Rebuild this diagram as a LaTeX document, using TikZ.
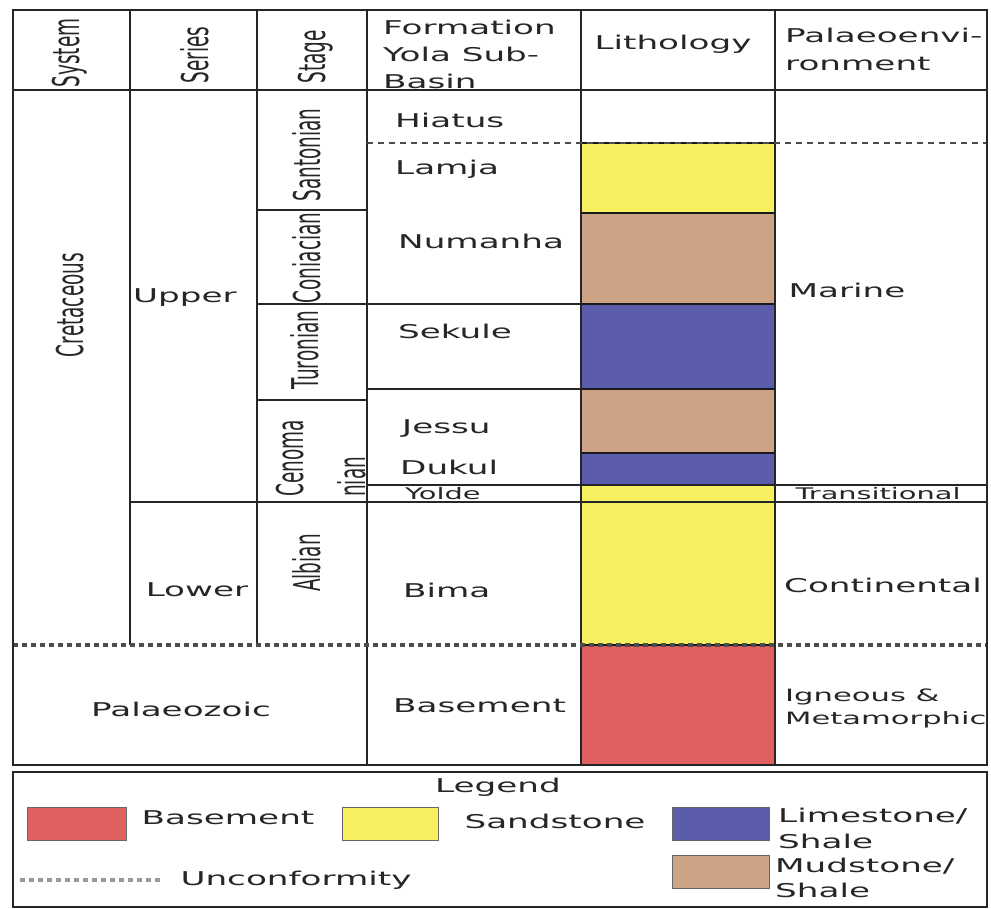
\documentclass[tikz,border=0pt]{standalone}
\usepackage{fontspec}
\setmainfont{DejaVu Sans}
\usepackage{graphicx}
\usepackage{xcolor}
\definecolor{sandyellow}{RGB}{246,240,96}
\definecolor{mudbrown}{RGB}{204,163,132}
\definecolor{limeblue}{RGB}{92,92,172}
\definecolor{basered}{RGB}{222,96,96}
\newcommand{\wt}[1]{\scalebox{1.8}[1]{#1}}
\newcommand{\rt}[1]{\scalebox{0.9}[1.8]{#1}}
\newcommand{\lines}[1]{\begin{tabular}{@{}l@{}}#1\end{tabular}}

\begin{document}
\begin{tikzpicture}[x=1pt, y=-1pt,
    every node/.style={inner sep=0pt, text=black!85, font=\fontsize{19}{27}\selectfont},
    rlabel/.style={rotate=90, font=\fontsize{20.5}{24}\selectfont},
    small/.style={font=\fontsize{16}{20}\selectfont},
    grid/.style={line width=2.4pt, draw=black!85},
    frame/.style={line width=2.8pt, draw=black!85},
    bed/.style={line width=1.8pt, draw=black!90},
    swatch/.style={line width=1pt, draw=black!60},
    hiatus/.style={line width=1.6pt, draw=black!70, dash pattern=on 6pt off 5pt},
    unconf/.style={line width=3.5pt, draw=black!70, dash pattern=on 5pt off 4pt}]
\useasboundingbox (0,0) rectangle (991,909);

\draw[bed, fill=sandyellow] (581,143) rectangle (775,213);
\draw[bed, fill=mudbrown] (581,213) rectangle (775,304);
\draw[bed, fill=limeblue] (581,304) rectangle (775,389);
\draw[bed, fill=mudbrown] (581,389) rectangle (775,453);
\draw[bed, fill=limeblue] (581,453) rectangle (775,485);
\draw[bed, fill=sandyellow] (581,485) rectangle (775,502);
\draw[bed, fill=sandyellow] (581,502) rectangle (775,645);
\draw[bed, fill=basered] (581,645) rectangle (775,765);

\draw[grid] (13,90) -- (987,90);
\draw[grid] (130,10) -- (130,645) (257,10) -- (257,645);
\draw[grid] (367,10) -- (367,765) (581,10) -- (581,765) (775,10) -- (775,765);
\draw[grid] (257,210) -- (367,210);
\draw[grid] (257,304) -- (581,304);
\draw[grid] (257,400) -- (367,400);
\draw[grid] (367,389) -- (581,389);
\draw[grid] (367,485) -- (987,485);
\draw[grid] (130,502) -- (987,502);
\draw[hiatus] (367,143) -- (987,143);
\draw[unconf] (13,645) -- (987,645);
\draw[frame] (13,10) rectangle (987,765);
\draw[frame] (13,772) rectangle (987,907);

\node[rlabel] (system) at (70,53) {\rt{System}};
\node[rlabel] (series) at (195,55) {\rt{Series}};
\node[rlabel] (stage) at (316,57) {\rt{Stage}};
\node[anchor=west] (formation) at (383,56) {\wt{\lines{Formation\\Yola Sub-\\Basin}}};
\node (lithology) at (673,44) {\wt{Lithology}};
\node[anchor=west, font=\fontsize{19}{28}\selectfont] (palaeoenv) at (785,51) {\wt{\lines{Palaeoenvi-\\ronment}}};

\node[rlabel] (cretaceous) at (70,305) {\rt{Cretaceous}};
\node[anchor=west] (upper) at (133,298) {\wt{Upper}};
\node (lower) at (197,590) {\wt{Lower}};
\node[rlabel] (santonian) at (307,155) {\rt{Santonian}};
\node[rlabel] (coniacian) at (307,258) {\rt{Coniacian}};
\node[rlabel] (turonian) at (305,350) {\rt{Turonian}};
\node[rlabel, anchor=west] (cenoma) at (290,497) {\rt{Cenoma}};
\node[rlabel, anchor=west] (nian) at (352,497) {\rt{nian}};
\node[rlabel] (albian) at (307,563) {\rt{Albian}};
\node (palaeozoic) at (181,709) {\wt{Palaeozoic}};

\node[anchor=west] (hiatus) at (395,120) {\wt{Hiatus}};
\node[anchor=west] (lamja) at (395,169) {\wt{Lamja}};
\node[anchor=west] (numanha) at (398,241) {\wt{Numanha}};
\node[anchor=west] (sekule) at (398,331) {\wt{Sekule}};
\node[anchor=west] (jessu) at (402,428) {\wt{Jessu}};
\node[anchor=west] (dukul) at (400,467) {\wt{Dukul}};
\node[anchor=west, small] (yolde) at (405,494) {\wt{Yolde}};
\node[anchor=west] (bima) at (403,590) {\wt{Bima}};
\node[anchor=west] (basement) at (393,706) {\wt{Basement}};

\node (marine) at (847,290) {\wt{Marine}};
\node[small] (transitional) at (878,494) {\wt{Transitional}};
\node (continental) at (883,585) {\wt{Continental}};
\node[anchor=west, font=\fontsize{17}{23}\selectfont] (igneous) at (785,708) {\wt{\lines{Igneous \&\\Metamorphic}}};

\node (legend) at (498,787) {\wt{Legend}};
\draw[swatch, fill=basered] (27,807) rectangle (126,840);
\node (keybasement) at (228,818) {\wt{Basement}};
\draw[swatch, fill=sandyellow] (342,807) rectangle (438,840);
\node (keysandstone) at (555,821) {\wt{Sandstone}};
\draw[swatch, fill=limeblue] (672,807) rectangle (769,840);
\node[anchor=west, font=\fontsize{19}{26}\selectfont] (keylimestone) at (778,830) {\wt{\lines{Limestone/\\Shale}}};
\draw[swatch, fill=mudbrown] (672,855) rectangle (769,888);
\node[anchor=west, font=\fontsize{19}{25}\selectfont] (keymudstone) at (775,880) {\wt{\lines{Mudstone/\\Shale}}};
\draw[unconf, draw=black!40] (20,880) -- (160,880);
\node (keyunconf) at (296,880) {\wt{Unconformity}};
\end{tikzpicture}
\end{document}
